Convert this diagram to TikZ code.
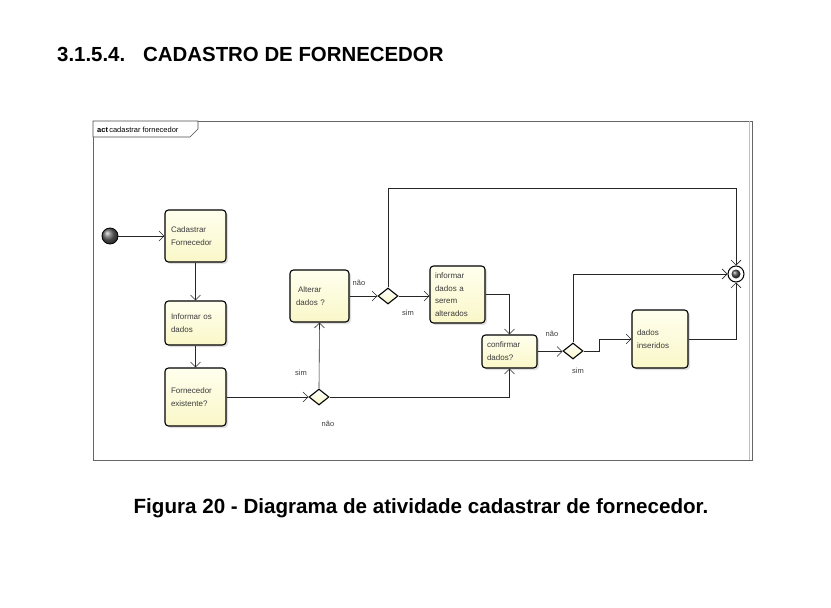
\documentclass[tikz,border=0pt]{standalone}
\usepackage{fontspec}
\setmainfont{Liberation Sans}
\usetikzlibrary{arrows.meta,shapes.geometric,shadows,calc}
\definecolor{boxfillA}{RGB}{255,255,238}
\definecolor{boxfillB}{RGB}{250,247,200}
\definecolor{txtgray}{RGB}{60,60,60}
\begin{document}
\begin{tikzpicture}[x=1pt,y=-1pt,
  actbox/.style={draw=black, line width=1.1pt, rounded corners=3.5pt,
    top color=boxfillA, bottom color=boxfillB,
    drop shadow={shadow xshift=2pt,shadow yshift=-2pt,opacity=0.25},
    align=left, inner sep=0pt, text=txtgray,
    font=\fontsize{8}{13}\selectfont},
  decis/.style={draw=black, line width=1.1pt, shape=diamond, inner sep=0pt,
    minimum width=20pt, minimum height=16pt, top color=white, bottom color=boxfillB},
  flow/.style={draw=black!85, line width=0.6pt, -{Straight Barb[length=5pt,width=10pt]}},
  lbl/.style={font=\fontsize{7.5}{9}\selectfont, text=txtgray, inner sep=0pt}
]
\useasboundingbox (0,0) rectangle (831,608);

% heading
\node[anchor=west, font=\fontsize{20.4}{24}\selectfont\bfseries, inner sep=0pt] (head) at (57,54) {3.1.5.4.\hspace{18pt}CADASTRO DE FORNECEDOR};

% frame
\draw[black!60, line width=0.8pt] (93,121) rectangle (752,460);
\draw[black!25, line width=0.6pt] (749,121) -- (749,460);
\draw[black!70, line width=0.6pt, fill=white] (93,121) -- (198,121) -- (198,129) -- (190,137) -- (93,137) -- cycle;
\node[anchor=west, inner sep=0pt, font=\fontsize{7.5}{9}\selectfont] (tab) at (97,129.5) {\textbf{act}\,cadastrar fornecedor};

% nodes
\node[circle, minimum size=16pt, inner sep=0pt, draw=black, line width=0.8pt, ball color=black!60] (ini) at (110,236) {};

\node[actbox, minimum width=61pt, minimum height=52pt, text width=49pt] (cad) at (195.5,236) {Cadastrar\\Fornecedor};
\node[actbox, minimum width=61pt, minimum height=44pt, text width=49pt] (inf) at (195.5,323) {Informar os\\dados};
\node[actbox, minimum width=61pt, minimum height=58pt, text width=49pt] (exi) at (195.5,397) {Fornecedor\\existente?};
\node[actbox, minimum width=59pt, minimum height=52pt, text width=47pt] (alt) at (319.5,296) {\hspace{2pt}Alterar\\dados ?};
\node[actbox, minimum width=55pt, minimum height=57pt, text width=45pt, font=\fontsize{8}{12.5}\selectfont] (ida) at (457.5,294.5) {informar\\dados a\\serem\\alterados};
\node[actbox, minimum width=55pt, minimum height=33pt, text width=45pt] (con) at (509.5,351.5) {confirmar\\dados?};
\node[actbox, minimum width=56pt, minimum height=58pt, text width=46pt] (ins) at (660,339) {dados\\inseridos};

\node[decis] (d1) at (319,397) {};
\node[decis] (d2) at (388,296) {};
\node[decis] (d3) at (573,351) {};

\node[circle, minimum size=16pt, inner sep=0pt, draw=black, line width=1pt, fill=white] (fin) at (736,274) {};
\node[circle, minimum size=9pt, inner sep=0pt, ball color=black!70] (finin) at (fin.center) {};

% connectors
\draw[flow] (ini) -- (cad);
\draw[flow] (cad) -- (inf);
\draw[flow] (inf) -- (exi);
\draw[flow] (exi.east) -- (d1.west);
\draw[flow] (d1.north) -- (alt.south);
\draw[flow] (d1.east) -| (con.south);
\draw[flow] (alt.east) -- (d2.west);
\draw[flow] (d2.east) -- (d2.east -| ida.west);
\draw[flow] (d2.north) -- ++(0,-99) -| (fin.north);
\draw[flow] (ida.east) -| (con.north);
\draw[flow] (con.east) -- (con.east -| d3.west);
\draw[flow] (d3.north) |- (fin.west);
\draw[flow] (d3.east) -- ++(16,0) |- (ins.west);
\draw[flow] (ins.east) -| (fin.south);

% labels
\node[lbl] (l1) at (301,373) {sim};
\node[lbl] (l2) at (328,424) {não};
\node[lbl] (l3) at (359,283) {não};
\node[lbl] (l4) at (408,313) {sim};
\node[lbl] (l5) at (552,334) {não};
\node[lbl] (l6) at (578,371) {sim};

% caption
\node[font=\fontsize{20.6}{24}\selectfont\bfseries, inner sep=0pt] (cap) at (421,508) {Figura 20 - Diagrama de atividade cadastrar de fornecedor.};
\end{tikzpicture}
\end{document}
